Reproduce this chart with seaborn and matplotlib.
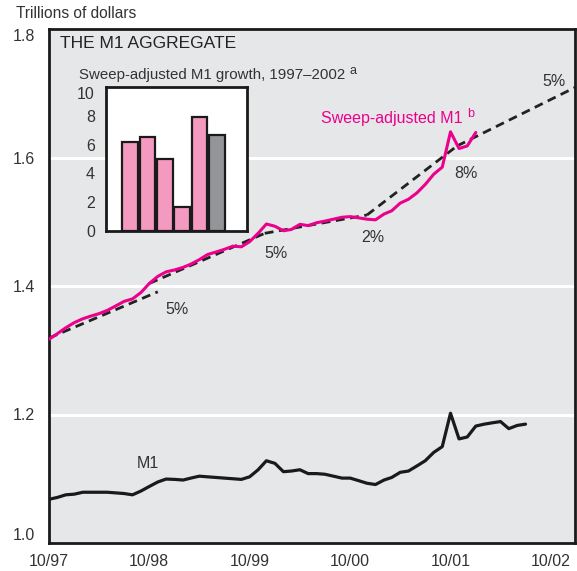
import pandas as pd
import seaborn as sns
import matplotlib.pyplot as plt
import matplotlib.dates as mdates
import numpy as np

# monthly levels, trillions of dollars, starting 10/97
m1_values = [1.068, 1.071, 1.075, 1.076, 1.079, 1.079, 1.079, 1.079, 1.078, 1.077,
             1.075, 1.081, 1.088, 1.095, 1.0995, 1.099, 1.098, 1.101, 1.104, 1.103,
             1.102, 1.101, 1.100, 1.099, 1.103, 1.114, 1.128, 1.124, 1.111, 1.112,
             1.114, 1.108, 1.108, 1.107, 1.104, 1.101, 1.101, 1.097, 1.093, 1.091,
             1.098, 1.102, 1.110, 1.112, 1.120, 1.128, 1.141, 1.150, 1.202, 1.162,
             1.165, 1.182, 1.185, 1.187, 1.189, 1.178, 1.183, 1.185]
sweep_values = [1.317, 1.326, 1.335, 1.343, 1.349, 1.353, 1.357, 1.362, 1.369, 1.376,
                1.380, 1.390, 1.404, 1.415, 1.422, 1.425, 1.429, 1.434, 1.441, 1.449,
                1.453, 1.457, 1.462, 1.461, 1.469, 1.482, 1.4965, 1.493, 1.486, 1.488,
                1.496, 1.494, 1.4985, 1.501, 1.504, 1.507, 1.508, 1.506, 1.504, 1.503,
                1.512, 1.517, 1.529, 1.535, 1.545, 1.558, 1.574, 1.585, 1.640, 1.614,
                1.618, 1.639]

# trend segments (start date, start value, end date, end value, label)
trend_start = ['1997-10-01', '1998-10-01', '1999-11-25', '2000-12-01', '2001-10-25']
trend_end = ['1998-11-01', '1999-11-25', '2000-12-01', '2001-10-25', '2002-12-28']
trend_v0 = [1.319, 1.404, 1.482, 1.5105, 1.618]
trend_v1 = [1.391, 1.482, 1.5105, 1.618, 1.709]
trend_labels = ['5%', '5%', '2%', '8%', '5%']

# inset bars: sweep-adjusted M1 growth, percent
bar_years = ['1997', '1998', '1999', '2000', '2001', '2002']
bar_growth = [6.2, 6.55, 5.0, 1.65, 7.95, 6.7]
bar_colors = ['#f49ac1', '#f49ac1', '#f49ac1', '#f49ac1', '#f49ac1', '#939598']

PINK = '#ec008c'
TXT = '#333333'
BG = '#e6e7e8'

sns.set_style('white')
plt.rcParams['font.family'] = ['Liberation Sans', 'DejaVu Sans']
plt.rcParams['text.color'] = TXT

fig = plt.figure(figsize=(5.77, 5.71), dpi=100)
W, H = 577, 571
ax = fig.add_axes([49 / W, 28 / H, 526 / W, 514 / H])
ax.set_facecolor(BG)

m1_df = pd.DataFrame({'date': pd.date_range('1997-10-01', periods=len(m1_values), freq='MS'),
                      'value': m1_values})
sw_df = pd.DataFrame({'date': pd.date_range('1997-10-01', periods=len(sweep_values), freq='MS'),
                      'value': sweep_values})

rows = []
for i in range(len(trend_start)):
    rows.append({'seg': i, 'date': pd.Timestamp(trend_start[i]), 'value': trend_v0[i]})
    rows.append({'seg': i, 'date': pd.Timestamp(trend_end[i]), 'value': trend_v1[i]})
tr_df = pd.DataFrame(rows)

for i in range(len(trend_start)):
    sns.lineplot(data=tr_df[tr_df['seg'] == i], x='date', y='value', ax=ax,
                 color='#222222', lw=2.0, linestyle=(0, (3.2, 2.0)), zorder=3)
sns.lineplot(data=m1_df, x='date', y='value', ax=ax, color='#1a1a1a', lw=2.3, zorder=4)
sns.lineplot(data=sw_df, x='date', y='value', ax=ax, color=PINK, lw=2.2, zorder=4)

ax.set_xlim(pd.Timestamp('1997-10-01'), pd.Timestamp('2002-12-28'))
ax.set_ylim(1.0, 1.8)
ax.set_xlabel('')
ax.set_ylabel('')
ax.xaxis.set_major_locator(mdates.MonthLocator(bymonth=[10]))
ax.xaxis.set_minor_locator(mdates.MonthLocator(bymonth=[1, 4, 7]))
ax.xaxis.set_major_formatter(mdates.DateFormatter('%m/%y'))
ax.set_yticks([1.0, 1.2, 1.4, 1.6, 1.8])
ax.set_yticklabels(['1.0', '1.2', '1.4', '1.6', '1.8'])
ax.yaxis.grid(True, color='white', lw=2.2)
ax.xaxis.grid(False)
ax.set_axisbelow(True)
ax.tick_params(axis='x', which='major', direction='in', length=12, width=1.8,
               labelsize=11.5, pad=8, colors='#1a1a1a', labelcolor=TXT)
ax.tick_params(axis='x', which='minor', direction='in', length=6.5, width=1.8, colors='#1a1a1a')
ax.tick_params(axis='y', direction='in', length=12, width=1.8, labelsize=11.5, pad=10,
               colors='#1a1a1a', labelcolor=TXT)
ylabs = ax.get_yticklabels()
ylabs[0].set_va('bottom')
ylabs[-1].set_va('top')
for s in ax.spines.values():
    s.set_visible(True)
    s.set_color('#1a1a1a')
    s.set_linewidth(2)

def dx(px):
    return mdates.num2date(mdates.date2num(pd.Timestamp('1997-10-01')) + (px - 49) / 100.4 * 365.25)

def dy(py):
    return 1.0 + (543 - py) / 642.5

# trend labels
label_px = [(177, 310), (276, 254), (373, 238), (466, 173), (554, 82)]
for lab, (px, py) in zip(trend_labels, label_px):
    ax.text(dx(px), dy(py), lab, fontsize=11.5, ha='center', va='center', color=TXT)
ax.text(dx(148), dy(463), 'M1', fontsize=11.5, ha='center', va='center', color=TXT)
sw_lab = ax.text(dx(463), dy(118), 'Sweep-adjusted M1', fontsize=11.5, ha='right',
                 va='center', color=PINK)
ax.annotate('b', xy=(1, 0.75), xycoords=sw_lab, xytext=(3, 0), textcoords='offset points',
            fontsize=9, ha='left', va='center', color=PINK)

# figure texts
fig.text(16 / W, 1 - 14 / H, 'Trillions of dollars', fontsize=11.2, ha='left', va='center', color=TXT)
fig.text(60 / W, 1 - 44 / H, 'THE M1 AGGREGATE', fontsize=12.5, ha='left', va='center',
         color='#222222')
in_title = fig.text(79 / W, 1 - 75 / H, 'Sweep-adjusted M1 growth, 1997\u20132002', fontsize=10.8,
                    ha='left', va='center', color=TXT)
ax.annotate('a', xy=(1, 0.8), xycoords=in_title, xytext=(3, 0), textcoords='offset points',
            fontsize=9, ha='left', va='center', color=TXT)

# inset bar chart
iax = fig.add_axes([106 / W, (H - 231) / H, 141 / W, 144 / H])
iax.set_facecolor('white')
bar_df = pd.DataFrame({'year': bar_years, 'growth': bar_growth})
sns.barplot(data=bar_df, x='year', y='growth', hue='year', palette=bar_colors, saturation=1,
            legend=False, width=0.9, edgecolor='#1a1a1a', linewidth=1.6, ax=iax, zorder=3)
iax.set_xlim(-1.4, 6.75)
iax.set_ylim(0, 10)
iax.set_xticks([])
iax.set_xlabel('')
iax.set_ylabel('')
iax.set_yticks([0, 2, 4, 6, 8, 10])
iax.tick_params(axis='y', direction='in', length=12, width=1.6, labelsize=11.5, pad=8,
                colors='#1a1a1a', labelcolor=TXT)
iax.get_yticklabels()[-1].set_va('top')
for s in iax.spines.values():
    s.set_visible(True)
    s.set_color('#1a1a1a')
    s.set_linewidth(2)

fig.savefig('out.png', dpi=100)
